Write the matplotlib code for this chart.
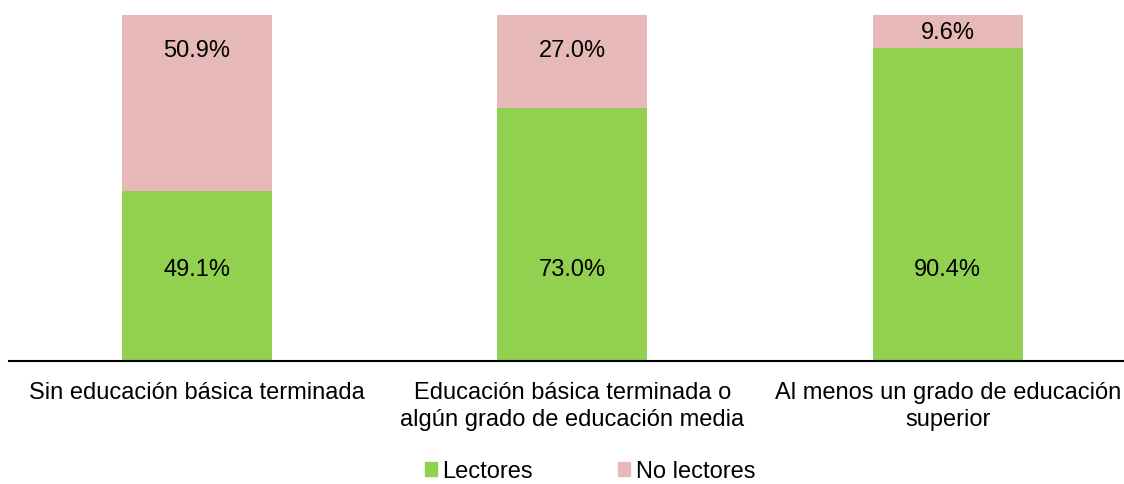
import matplotlib.pyplot as plt
from matplotlib.patches import Patch

categorias = ["Sin educación básica terminada",
              "Educación básica terminada o\nalgún grado de educación media",
              "Al menos un grado de educación\nsuperior"]
lectores = [49.1, 73.0, 90.4]
no_lectores = [50.9, 27.0, 9.6]

verde = "#92D050"
rosa = "#E6B9B8"

plt.rcParams['font.family'] = ['Liberation Sans', 'DejaVu Sans']

fig = plt.figure(figsize=(11.24, 4.85), dpi=100)
ax = fig.add_axes([9/1124, 0.2546, 1 - 9/1124, 0.7124])

x = list(range(len(categorias)))
ax.bar(x, lectores, width=0.4, color=verde)
ax.bar(x, no_lectores, width=0.4, bottom=lectores, color=rosa)

# etiquetas de datos
for i in x:
    ax.text(i, 26.4, f"{lectores[i]:.1f}%", ha='center', va='center', fontsize=17)
    yl = max(lectores[i] + no_lectores[i] / 2, 90)
    ax.text(i, yl, f"{no_lectores[i]:.1f}%", ha='center', va='center', fontsize=17)

ax.set_xlim(-0.5, 2.469)
ax.set_ylim(0, 100)
ax.set_yticks([])
ax.set_xticks(x)
ax.set_xticklabels(categorias, fontsize=17, linespacing=1.28)
ax.tick_params(axis='x', length=0, pad=15)
for s in ['top', 'right', 'left']:
    ax.spines[s].set_visible(False)
ax.spines['bottom'].set_linewidth(1.5)

handles = [Patch(color=verde, label="Lectores"), Patch(color=rosa, label="No lectores")]
fig.legend(handles=handles, loc='center', bbox_to_anchor=(0.525, 0.026), ncol=2,
           frameon=False, fontsize=17, handlelength=0.5, handleheight=0.5,
           handletextpad=0.25, columnspacing=3.6, borderpad=0.1)

fig.savefig("out.png", dpi=100)
